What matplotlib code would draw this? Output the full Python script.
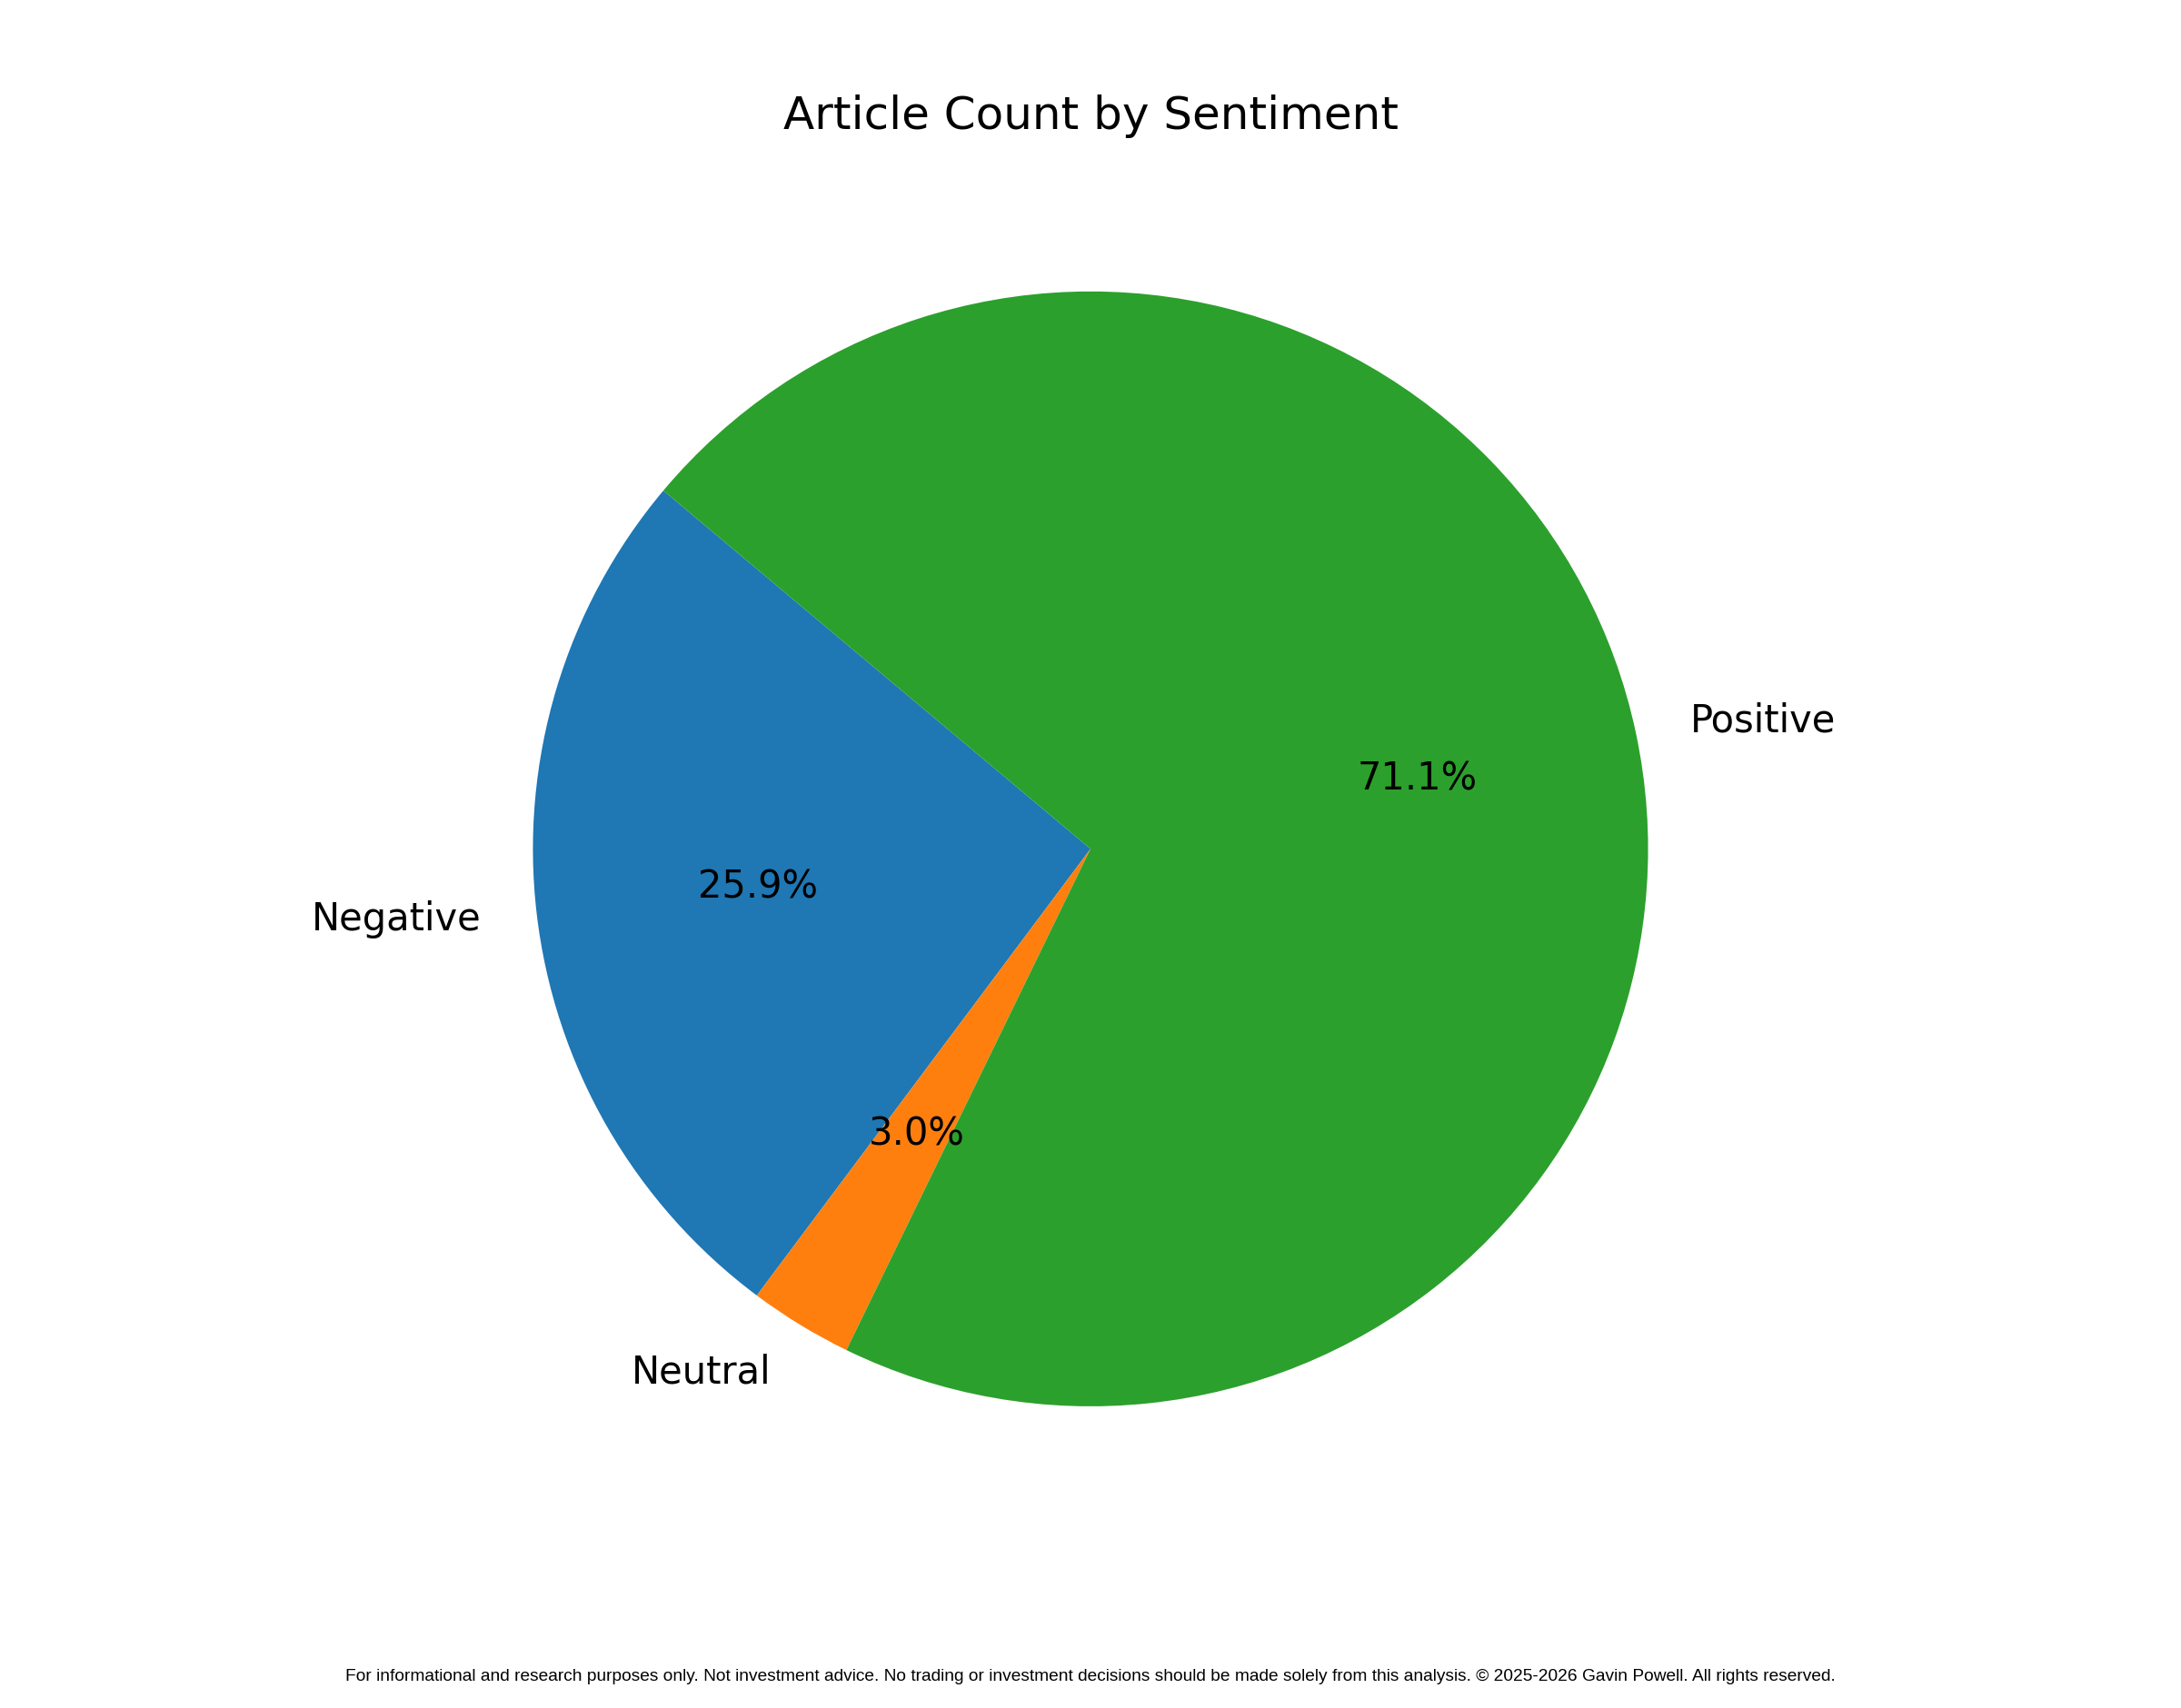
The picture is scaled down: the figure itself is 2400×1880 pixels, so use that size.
import matplotlib
matplotlib.use("Agg")
import matplotlib.pyplot as plt

sentiments = ["Negative", "Neutral", "Positive"]
counts = [25.9, 3.0, 71.1]
colors = ["#1f77b4", "#ff7f0e", "#2ca02c"]

footer = ("For informational and research purposes only. Not investment advice. "
          "No trading or investment decisions should be made solely from this analysis. "
          "\u00a9 2025-2026 Gavin Powell. All rights reserved.")

fig = plt.figure(figsize=(12, 9.4), dpi=200)
ax = fig.add_axes([0.1, 0.144, 0.8, 0.718])
ax.pie(counts, labels=sentiments, colors=colors, autopct="%1.1f%%",
       startangle=140, textprops={"fontsize": 15})
ax.axis("equal")

fig.suptitle("Article Count by Sentiment", fontsize=18, y=0.932, va="center")

fig.text(0.5, 0.0185, footer, ha="center", va="center", fontsize=6.9,
         family=["Liberation Sans", "DejaVu Sans"])

fig.savefig("out.png", dpi=200)
